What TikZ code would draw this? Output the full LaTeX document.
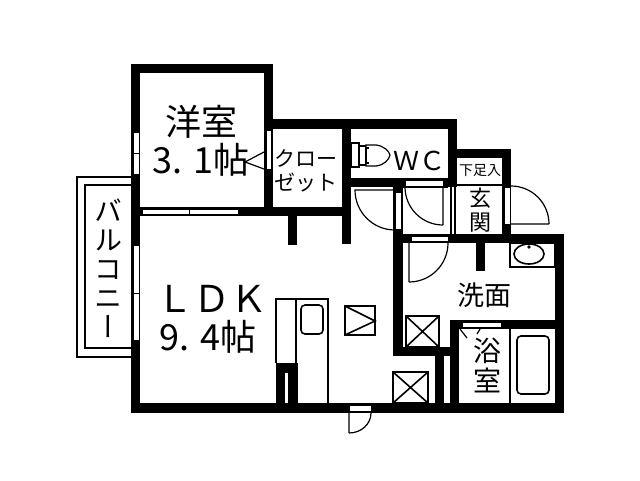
\documentclass[tikz,border=0pt]{standalone}
\usepackage{fontspec}
\setmainfont{Noto Sans CJK JP}
\newfontfamily\vertfont[RawFeature=+vert]{Noto Sans CJK JP}
\newcommand{\fsz}[2]{\fontsize{#1}{#2}\selectfont}
\tikzset{
  wall/.style={fill=black},
  window/.style={fill=white,draw=black,line width=.6pt},
  thin line/.style={draw=black,line width=1.2pt},
  fixture/.style={draw=black,line width=1.6pt},
  label/.style={inner sep=0pt,align=center}
}
\begin{document}
\begin{tikzpicture}[x=1pt,y=-1pt]
  \useasboundingbox (0,0) rectangle (640,480);
  % balcony
  \draw[thin line] (131,177) -- (77,177) -- (77,357) -- (131,357);
  \draw[thin line] (131,185) -- (85,185) -- (85,348) -- (131,348);
  % walls
  \foreach \xa/\ya/\xb/\yb in {131/64/273/73, 131/64/140/413, 264/64/273/216,
    131/207/351/216, 273/119/457/129, 342/119/351/244, 288/216/297/245,
    448/119/457/187, 351/178/457/187, 393/178/403/356, 393/234/564/243,
    476/243/485/271, 555/234/564/413, 131/403/564/413, 393/347/459/356,
    450/320/564/329, 450/320/459/403, 435/347/444/403,
    457/149/511/158, 502/149/511/234, 276/363/298/403}
    \fill[wall] (\xa,\ya) rectangle (\xb,\yb);
  \fill[white] (285,373) rectangle (288,403);
  % windows and door slots
  \foreach \xa/\ya/\xb/\yb in {133/132/139/153, 133/153/139/174, 133/245/139/293,
    133/293/139/340, 142/209/189/214, 189/209/238/214, 266/130/271/169,
    395/192/401/229, 405/180/443/186, 411/236/448/241, 504/187/510/224,
    462/322/501/327, 349/405/371/411}
    \draw[window] (\xa,\ya) rectangle (\xb,\yb);
  \fill[white] (444,356) rectangle (450,403);
  \fill[white] (403,187) rectangle (448,234);
  \draw[thin line] (403,187) -- (448,187);
  \fill[white] (448,187) rectangle (457,234);
  \draw[thin line] (451,187) -- (451,234) (455,187) -- (455,234);
  \draw[thin line] (457,185) -- (502,185);
  % doors
  \draw[thin line] (395,190) -- (355,190) arc[start angle=180,end angle=270,radius=40pt];
  \draw[thin line] (443,187) -- (443,225) (405,187) arc[start angle=180,end angle=270,radius=38pt];
  \draw[thin line] (409,243) -- (409,282) (448,243) arc[start angle=0,end angle=-90,radius=39pt];
  \draw[thin line] (511,224) -- (549,224) (511,186) arc[start angle=90,end angle=0,radius=38pt];
  \draw[thin line] (349,413) -- (349,433) (371,413) arc[start angle=0,end angle=-90,x radius=22pt,y radius=20pt];
  \draw[thin line] (264,152) -- (245,162) -- (264,169);
  \draw[thin line] (460,329) -- (467,338) (480,329) -- (477,334);
  % toilet
  \draw[thin line] (351,143) rectangle (359,167);
  \draw[thin line] (359,146) -- (366,146) (359,165) -- (366,165);
  \draw[thin line] (366,145) -- (376,145) .. controls (384,146) and (389,151) .. (390,155)
    .. controls (389,160) and (384,165) .. (376,166) -- (366,166) -- cycle;
  \draw[thin line] (369,148) -- (366,148) -- (366,163) -- (369,163);
  % sink and bath
  \draw[thin line] (510,243) rectangle (555,267);
  \draw[fixture] (529,254) ellipse[x radius=15,y radius=10];
  \fill (529,247) circle[radius=1.8];
  \draw[thin line] (510,329) -- (510,403);
  \draw[fixture,rounded corners=4pt] (517,336) rectangle (549,394);
  % kitchen
  \draw[thin line] (276,363) -- (276,299) -- (328,299) -- (328,403);
  \draw[thin line] (296,299) -- (296,363);
  \draw[fixture,rounded corners=4pt] (301,305) rectangle (323,334);
  \draw[fixture] (345,306) rectangle (375,335);
  \draw[fixture] (345,306) -- (375,321) -- (345,335);
  \draw[fixture] (406,316) rectangle (439,347) (406,316) -- (439,347) (439,316) -- (406,347);
  \draw[fixture] (393,372) rectangle (428,403) (393,372) -- (428,403) (428,372) -- (393,403);
  % labels
  \node[label,font=\fsz{36}{40}] (yoshitsu) at (201,122) {洋室};
  \node[label,font=\fsz{36}{40}] (yoshitsuarea) at (201,160) {3. 1帖};
  \node[label,font=\fsz{21}{24}] (closet) at (306,171) {クロー\\ゼット};
  \node[label,font=\fsz{26}{28}] (wc) at (419,161) {ＷＣ};
  \node[label,font=\fsz{14}{16}] (shoes) at (480,171) {下足入};
  \node[label,font=\fsz{22}{24.5}] (genkan) at (480,210) {玄\\関};
  \node[label,font=\fsz{27}{30}] (senmen) at (484,295) {洗面};
  \node[label,font=\fsz{28}{30}] (yokushitsu) at (487,365) {浴\\室};
  \node[label,font=\fsz{37}{40}] (ldk) at (212,299) {ＬＤＫ};
  \node[label,font=\fsz{36}{40}] (ldkarea) at (208,337) {9. 4帖};
  \node[label,font=\vertfont\fsz{28}{29}] (balcony) at (108,268) {バ\\ル\\コ\\ニ\\ー};
\end{tikzpicture}
\end{document}
